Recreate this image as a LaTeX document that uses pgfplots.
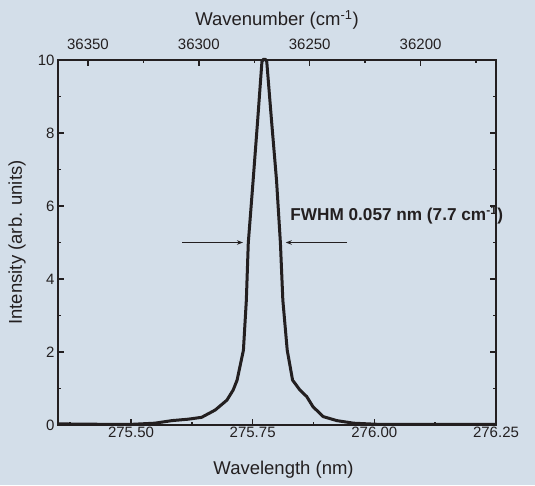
\documentclass[border=0pt]{standalone}
\usepackage{fontspec}
\setmainfont{Liberation Sans}
\usepackage{pgfplots}
\usepackage{pgfplotstable}
\pgfplotsset{compat=1.18}
\usetikzlibrary{arrows.meta}

\definecolor{bgc}{RGB}{211,222,233}
\definecolor{ink}{RGB}{35,31,32}

% emission line, wavelength (nm) vs intensity
\pgfplotstableread{
wl      inten
275.350 0.03
275.436 0.02
275.504 0.02
275.549 0.05
275.584 0.12
275.618 0.16
275.645 0.21
275.673 0.41
275.697 0.68
275.710 0.96
275.718 1.23
275.731 2.05
275.737 3.42
275.741 4.99
275.751 6.71
275.760 8.30
275.769 9.95
275.772 10.02
275.776 10.02
275.779 9.95
275.789 8.30
275.799 6.71
275.807 4.99
275.812 3.42
275.821 2.05
275.832 1.23
275.847 0.96
275.861 0.78
275.874 0.50
275.895 0.23
275.923 0.12
275.957 0.05
276.005 0.02
276.250 0.02
}\spectrum

\pgfplotsset{
  common/.style={
    at={(58pt,60pt)}, anchor=south west,
    scale only axis, width=438pt, height=365pt,
    axis line style={line width=2pt, ink},
    every tick/.style={line width=1.4pt, ink},
    major tick length=6pt, minor tick length=3.5pt,
    tick align=inside,
    tick label style={font=\fontsize{15}{15}\selectfont, text=ink},
    label style={font=\fontsize{18.5}{18.5}\selectfont, text=ink},
    /pgf/number format/assume math mode=true,
    scaled ticks=false,
    clip=false,
  },
}

\begin{document}
\begin{tikzpicture}
\fill[bgc] (0,0) rectangle (535pt,485pt);

\begin{axis}[
  common,
  xmin=275.35, xmax=276.25, ymin=0, ymax=10,
  xtick={275.5,275.75,276,276.25},
  minor xtick={275.375,275.625,275.875,276.125},
  ytick={0,2,4,6,8,10},
  minor ytick={1,3,5,7,9},
  xtick pos=left, ytick pos=both,
  xticklabel style={yshift=2pt,
    /pgf/number format/.cd, fixed, fixed zerofill, precision=2},
  xlabel={Wavelength (nm)},
  ylabel={Intensity (arb. units)},
  xlabel style={at={(axis description cs:0.515,-0.1233)}, anchor=center},
  ylabel style={at={(axis description cs:-0.0936,0.5)}, anchor=center},
]
\addplot[ink, line width=3pt, line join=round] table[x=wl, y=inten] {\spectrum};

\draw[ink, line width=1pt, -{Stealth[length=6pt,width=4.5pt]}]
  (axis cs:275.605,5.0) -- (axis cs:275.730,5.0);
\draw[ink, line width=1pt, -{Stealth[length=6pt,width=4.5pt]}]
  (axis cs:275.944,5.0) -- (axis cs:275.818,5.0);
\node[anchor=west, inner sep=0pt, text=ink,
      font=\fontsize{17.2}{17.2}\selectfont\bfseries]
  at (axis cs:275.827,5.75) {FWHM 0.057 nm (7.7 cm\textsuperscript{-1})};
\end{axis}

\begin{axis}[
  common,
  x dir=reverse,
  xmin=36166, xmax=36363.5, ymin=0, ymax=10,
  axis x line*=top, hide y axis,
  xtick={36200,36250,36300,36350},
  minor xtick={36175,36225,36275,36325},
  xticklabel style={yshift=7pt,
    /pgf/number format/.cd, fixed, set thousands separator={}},
  xlabel={Wavenumber (cm\textsuperscript{-1})},
  xlabel style={at={(axis description cs:0.5,1.1096)}, anchor=center},
]
\end{axis}

\pgfresetboundingbox
\useasboundingbox (0,0) rectangle (535pt,485pt);
\end{tikzpicture}
\end{document}
